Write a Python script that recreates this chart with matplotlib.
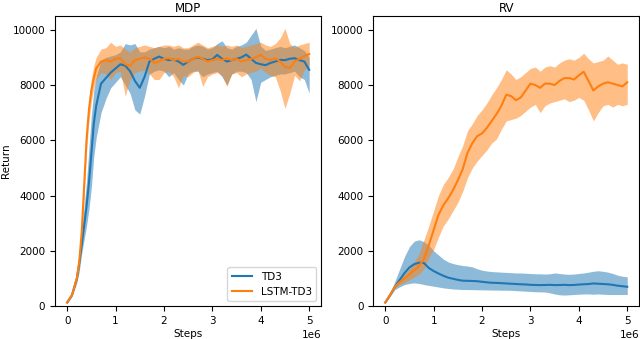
import matplotlib
matplotlib.use("Agg")
import matplotlib.pyplot as plt

plt.rcParams["font.size"] = 7.5

# ---- MDP panel (steps in units of 1e6) ----
mdp_x = [0, 0.1, 0.2, 0.25, 0.3, 0.35, 0.4, 0.45, 0.5, 0.55, 0.6, 0.7, 0.8, 0.9,
         1.0, 1.1, 1.2, 1.3, 1.4, 1.5, 1.6, 1.7, 1.8, 1.9, 2.0, 2.1, 2.2, 2.3, 2.4,
         2.5, 2.6, 2.7, 2.8, 2.9, 3.0, 3.1, 3.2, 3.3, 3.4, 3.5, 3.6, 3.7, 3.8, 3.9,
         4.0, 4.1, 4.2, 4.3, 4.4, 4.5, 4.6, 4.7, 4.8, 4.9, 5.0]

mdp_td3 = [130, 400, 1000, 1550, 2200, 2900, 3600, 4450, 5500, 6600, 7250, 8050, 8250, 8450,
           8600, 8750, 8700, 8500, 8150, 7900, 8300, 8850, 8950, 9030, 8950, 8900, 8920, 8850, 8730,
           8850, 8950, 9000, 8950, 8900, 8930, 9090, 8950, 8850, 8900, 8950, 9000, 9100, 8950, 8800,
           8750, 8720, 8800, 8850, 8910, 8900, 8950, 8970, 8900, 8850, 8550]
mdp_td3_lo = [100, 350, 850, 1250, 1900, 2400, 2900, 3500, 4300, 5400, 6100, 7000, 7500, 7900,
              8100, 8300, 8000, 7700, 7100, 6950, 7600, 8400, 8500, 8550, 8500, 8300, 8450, 8200, 8000,
              8400, 8500, 8500, 8300, 8400, 8450, 8500, 8300, 8000, 8400, 8500, 8500, 8450, 8200, 7400,
              8100, 8200, 8300, 8350, 8400, 8400, 8450, 8500, 8300, 8200, 7700]
mdp_td3_hi = [160, 450, 1150, 1850, 2700, 3600, 4500, 5700, 6900, 7800, 8300, 8900, 9000, 9050,
              9100, 9200, 9500, 9450, 9500, 9200, 9200, 9300, 9350, 9400, 9350, 9400, 9300, 9350, 9300,
              9300, 9400, 9450, 9400, 9300, 9350, 9500, 9600, 9350, 9300, 9400, 9450, 9550, 9800, 10050,
              9400, 9250, 9300, 9350, 9400, 9350, 9400, 9450, 9350, 9250, 9000]

mdp_lstm = [130, 400, 1000, 1600, 2650, 4300, 6000, 7100, 7800, 8250, 8600, 8850, 8900, 8850,
            8950, 8970, 8750, 8700, 8900, 8950, 9000, 8950, 8800, 8850, 8950, 8970, 8900, 8950, 8850,
            8850, 8950, 9030, 8950, 8850, 8900, 8950, 8900, 8970, 8900, 8950, 8850, 8900, 8950, 9000,
            9090, 8950, 8900, 8970, 8850, 8650, 8620, 8850, 8950, 9050, 9120]
mdp_lstm_lo = [110, 370, 900, 1450, 2350, 3900, 5600, 6700, 7400, 7900, 8200, 8450, 8400, 8200,
               8450, 8500, 7600, 8200, 8450, 8500, 8550, 8400, 8200, 8200, 8450, 8500, 8300, 7900, 8350,
               8300, 8450, 8550, 7950, 8300, 8400, 8450, 8350, 7950, 8400, 8450, 8300, 8400, 8450, 8500,
               8600, 8450, 8350, 8300, 7800, 7150, 7700, 8350, 8150, 8550, 8700]
mdp_lstm_hi = [150, 430, 1100, 1750, 2950, 4700, 6400, 7500, 8200, 8700, 9000, 9300, 9350, 9550,
               9400, 9450, 9300, 9200, 9350, 9400, 9450, 9400, 9350, 9400, 9450, 9450, 9400, 9450, 9350,
               9350, 9450, 9550, 9450, 9350, 9400, 9450, 9400, 9450, 9400, 9450, 9350, 9400, 9450, 9500,
               9550, 9450, 9400, 9500, 9700, 10050, 9500, 9350, 9450, 9500, 9550]

# ---- RV panel ----
rv_x = [0, 0.1, 0.2, 0.3, 0.4, 0.5, 0.6, 0.7, 0.8, 0.9, 1.0, 1.1, 1.2, 1.3, 1.4, 1.5, 1.6,
        1.7, 1.8, 1.9, 2.0, 2.1, 2.2, 2.3, 2.4, 2.5, 2.6, 2.7, 2.8, 2.9, 3.0, 3.1, 3.2, 3.3,
        3.4, 3.5, 3.6, 3.7, 3.8, 3.9, 4.0, 4.1, 4.2, 4.3, 4.4, 4.5, 4.6, 4.7, 4.8, 4.9, 5.0]

rv_td3 = [130, 400, 700, 950, 1200, 1400, 1520, 1570, 1560, 1380, 1270, 1180, 1100, 1030, 990, 950, 920,
          915, 910, 900, 880, 860, 845, 840, 830, 820, 810, 800, 790, 785, 770, 765, 760, 765,
          770, 760, 765, 770, 760, 765, 780, 790, 800, 820, 810, 800, 790, 770, 740, 720, 700]
rv_td3_lo = [110, 350, 600, 700, 780, 820, 840, 820, 780, 750, 720, 690, 660, 640, 620, 610, 600,
             600, 595, 590, 590, 585, 580, 580, 575, 575, 570, 560, 550, 540, 530, 520, 515, 510,
             480, 440, 410, 400, 410, 420, 430, 440, 440, 430, 440, 430, 420, 420, 420, 420, 420]
rv_td3_hi = [150, 450, 900, 1350, 1800, 2150, 2350, 2400, 2330, 2200, 2000, 1850, 1700, 1600, 1540, 1500, 1470,
             1450, 1420, 1350, 1300, 1270, 1250, 1240, 1230, 1220, 1210, 1200, 1200, 1190, 1180, 1170, 1170, 1160,
             1170, 1200, 1180, 1160, 1150, 1160, 1180, 1200, 1230, 1260, 1280, 1260, 1230, 1180, 1120, 1080, 1060]

rv_lstm = [130, 400, 700, 870, 1000, 1150, 1300, 1450, 1700, 2200, 2750, 3300, 3650, 3900, 4200, 4550, 4950,
           5550, 5900, 6150, 6250, 6450, 6700, 6950, 7250, 7650, 7600, 7450, 7550, 7800, 8050, 8000, 7900, 8050,
           8050, 8000, 8150, 8250, 8250, 8200, 8350, 8480, 8150, 7800, 7950, 8050, 8100, 8050, 8000, 7950, 8100]
rv_lstm_lo = [110, 370, 650, 780, 850, 950, 1050, 1150, 1350, 1750, 2050, 2500, 2900, 3150, 3450, 3750, 4150,
              4650, 5000, 5250, 5450, 5650, 5900, 6050, 6400, 6700, 6750, 6800, 6900, 7050, 7200, 7300, 7000, 7250,
              7350, 7400, 7450, 7500, 7400, 7450, 7550, 7450, 7100, 6700, 7000, 7250, 7300, 7200, 7300, 7250, 7300]
rv_lstm_hi = [150, 430, 750, 950, 1150, 1350, 1600, 1900, 2400, 2900, 3450, 4000, 4400, 4650, 4950, 5400, 5800,
              6350, 6600, 6900, 7100, 7350, 7650, 7900, 8200, 8550, 8400, 8200, 8300, 8450, 8600, 8650, 8500, 8650,
              8700, 8650, 8800, 8900, 8950, 8900, 9000, 9150, 8950, 8800, 8850, 8900, 9050, 8900, 8750, 8800, 8750]

panels = [
    ("MDP", mdp_x, (mdp_td3, mdp_td3_lo, mdp_td3_hi), (mdp_lstm, mdp_lstm_lo, mdp_lstm_hi)),
    ("RV", rv_x, (rv_td3, rv_td3_lo, rv_td3_hi), (rv_lstm, rv_lstm_lo, rv_lstm_hi)),
]

fig = plt.figure(figsize=(6.4, 3.39), dpi=100)
ax_l = fig.add_axes([0.086, 0.097, 0.416, 0.856])
ax_r = fig.add_axes([0.583, 0.097, 0.416, 0.856])

for ax, (title, xs, td3, lstm) in zip([ax_l, ax_r], panels):
    x = [v * 1e6 for v in xs]
    for (m, lo, hi), c, lab in [(td3, "tab:blue", "TD3"), (lstm, "tab:orange", "LSTM-TD3")]:
        ax.fill_between(x, lo, hi, color=c, alpha=0.5, lw=0)
        ax.plot(x, m, color=c, lw=1.5, label=lab)
    ax.set_title(title, fontsize=8.5, pad=3)
    ax.set_xlabel("Steps", labelpad=2)
    ax.set_ylim(0, 10500)
    ax.set_yticks([0, 2000, 4000, 6000, 8000, 10000])

ax_l.set_ylabel("Return")
ax_l.yaxis.set_label_coords(-0.165, 0.5)
ax_l.legend(loc="lower right")

fig.savefig("out.png", dpi=100)
